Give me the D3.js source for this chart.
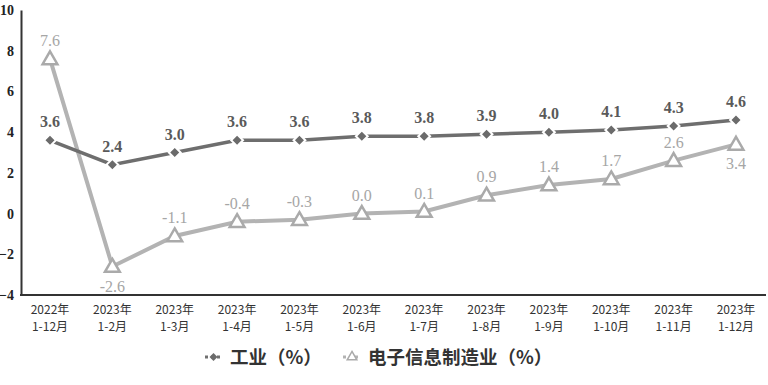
<!DOCTYPE html>
<html>
<head>
<meta charset="utf-8">
<script src="https://cdn.jsdelivr.net/npm/d3@7"></script>
<style>
  body { margin: 0; background: #fff; }
</style>
</head>
<body>
<div id="chart"></div>
<script>
// datos
var years = ["2022年", "2023年", "2023年", "2023年", "2023年", "2023年", "2023年", "2023年", "2023年", "2023年", "2023年", "2023年"];
var months = ["1-12月", "1-2月", "1-3月", "1-4月", "1-5月", "1-6月", "1-7月", "1-8月", "1-9月", "1-10月", "1-11月", "1-12月"];
var industria = [3.6, 2.4, 3.0, 3.6, 3.6, 3.8, 3.8, 3.9, 4.0, 4.1, 4.3, 4.6];
var electronica = [7.6, -2.6, -1.1, -0.4, -0.3, 0.0, 0.1, 0.9, 1.4, 1.7, 2.6, 3.4];
var yTicks = [-4, -2, 0, 2, 4, 6, 8, 10];
var seriesNames = ["工业（%）", "电子信息制造业（%）"];

var width = 768, height = 385;
var idx = d3.range(months.length);

var x = d3.scalePoint().domain(idx).range([50, 736]);
var y = d3.scaleLinear().domain([-4, 10]).range([295, 10]);

var svg = d3.select("#chart").append("svg")
    .attr("width", width)
    .attr("height", height);

// ejes
var yAxis = d3.axisLeft(y).tickValues(yTicks).tickSize(0).tickPadding(7);
var gy = svg.append("g")
    .attr("transform", "translate(21,0)")
    .call(yAxis);
gy.select(".domain").attr("stroke", "#333").attr("stroke-width", 2);
gy.selectAll("text")
    .style("font-family", "Liberation Serif, serif")
    .style("font-weight", "bold")
    .style("font-size", "14px")
    .attr("fill", "#222");

svg.append("line")
    .attr("x1", 20).attr("x2", 766)
    .attr("y1", y(-4)).attr("y2", y(-4))
    .attr("stroke", "#333").attr("stroke-width", 2);

// etiquetas eje X (dos lineas)
var xl = svg.append("g").selectAll("text")
    .data(idx)
    .enter()
    .append("text")
    .attr("x", d => x(d))
    .attr("y", 314)
    .attr("text-anchor", "middle")
    .style("font-family", "Noto Sans CJK SC, sans-serif")
    .style("font-size", "12px")
    .attr("fill", "#333");
xl.append("tspan").attr("x", d => x(d)).text(d => years[d]);
xl.append("tspan").attr("x", d => x(d)).attr("dy", 17).text(d => months[d]);

// lineas
var linea = d3.line().x((d, i) => x(i)).y(d => y(d));

svg.append("path")
    .datum(electronica)
    .attr("d", linea)
    .attr("fill", "none")
    .attr("stroke", "#b3b3b3")
    .attr("stroke-width", 4);

svg.append("path")
    .datum(industria)
    .attr("d", linea)
    .attr("fill", "none")
    .attr("stroke", "#6e6e6e")
    .attr("stroke-width", 3.5);

// marcadores
var triangulo = d3.symbol().type(d3.symbolTriangle).size(95);
var rombo = d3.symbol().type(d3.symbolSquare).size(70);

svg.selectAll(".tri")
    .data(electronica)
    .enter()
    .append("path")
    .attr("d", triangulo)
    .attr("transform", (d, i) => "translate(" + x(i) + "," + (y(d) + 1) + ")")
    .attr("fill", "#fff")
    .attr("stroke", "#aaaaaa")
    .attr("stroke-width", 2.5);

svg.selectAll(".rom")
    .data(industria)
    .enter()
    .append("path")
    .attr("d", rombo)
    .attr("transform", (d, i) => "translate(" + x(i) + "," + y(d) + ") rotate(45)")
    .attr("fill", "#6b6b6b")
    .attr("stroke", "#fff")
    .attr("stroke-width", 2);

// etiquetas de valores
svg.selectAll(".lblInd")
    .data(industria)
    .enter()
    .append("text")
    .attr("x", (d, i) => x(i))
    .attr("y", d => y(d) - 13)
    .attr("text-anchor", "middle")
    .style("font-family", "Liberation Serif, serif")
    .style("font-weight", "bold")
    .style("font-size", "16px")
    .attr("fill", "#5a5a5a")
    .text(d => d.toFixed(1));

var abajo = [1, 11]; // etiquetas bajo el punto
svg.selectAll(".lblEle")
    .data(electronica)
    .enter()
    .append("text")
    .attr("x", (d, i) => x(i))
    .attr("y", (d, i) => abajo.indexOf(i) >= 0 ? y(d) + 25 : y(d) - 13)
    .attr("text-anchor", "middle")
    .style("font-family", "Liberation Serif, serif")
    .style("font-size", "16px")
    .attr("fill", "#a6a6a6")
    .text(d => d.toFixed(1));

// leyenda
var ley = svg.append("g").attr("transform", "translate(0,357)");
ley.append("line").attr("x1", 205).attr("x2", 222).attr("y1", 0).attr("y2", 0)
    .attr("stroke", "#707070").attr("stroke-width", 3).attr("stroke-dasharray", "3,3");
ley.append("path").attr("d", d3.symbol().type(d3.symbolSquare).size(32))
    .attr("transform", "translate(213.5,0) rotate(45)").attr("fill", "#6b6b6b");
ley.append("text").attr("x", 230).attr("y", 7)
    .style("font-family", "Noto Sans CJK SC, sans-serif")
    .style("font-weight", "bold").style("font-size", "18.5px")
    .attr("fill", "#333").text(seriesNames[0]);

ley.append("line").attr("x1", 343).attr("x2", 361).attr("y1", 0).attr("y2", 0)
    .attr("stroke", "#b3b3b3").attr("stroke-width", 3).attr("stroke-dasharray", "3,3");
ley.append("path").attr("d", d3.symbol().type(d3.symbolTriangle).size(40))
    .attr("transform", "translate(352,0)").attr("fill", "#fff")
    .attr("stroke", "#aaa").attr("stroke-width", 1.5);
ley.append("text").attr("x", 368).attr("y", 7)
    .style("font-family", "Noto Sans CJK SC, sans-serif")
    .style("font-weight", "bold").style("font-size", "18.5px")
    .attr("fill", "#333").text(seriesNames[1]);
</script>
</body>
</html>
